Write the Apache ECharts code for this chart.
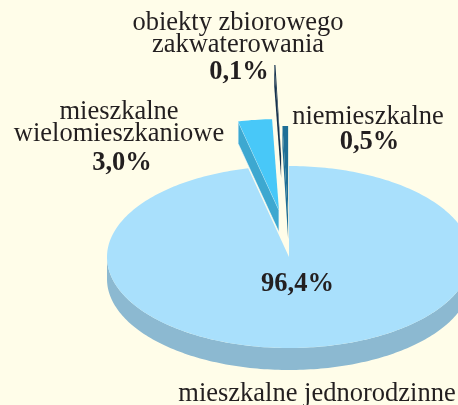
<!DOCTYPE html>
<html>
<head>
<meta charset="utf-8">
<title>pie</title>
<style>
html,body{margin:0;padding:0;background:#fffde9;}
#main{width:458px;height:405px;}
</style>
<script src="https://cdn.jsdelivr.net/npm/echarts@6/dist/echarts.min.js"></script>
</head>
<body>
<div id="main"></div>
<script>
var categories = ['mieszkalne jednorodzinne', 'mieszkalne\nwielomieszkaniowe', 'obiekty zbiorowego\nzakwaterowania', 'niemieszkalne'];
var values = [96.4, 3.0, 0.1, 0.5];
var valueLabels = ['96,4%', '3,0%', '0,1%', '0,5%'];

// wyglad plastra: [gora, bok]
var sliceColors = [['#a9e0fc', '#8cb9d1'], ['#48c8f8', '#3da8d0'], ['#16324e', '#16324e'], ['#1f6f96', '#1f6f96']];
// wysuniecie plastra: [w poziomie, w pionie]
var sliceExplode = [[0, 0], [0.42, 0.52], [1.25, 1.11], [0.3, 0.44]];
// pozycje podpisow: [x nazwy, y nazwy, x wartosci, y wartosci]
var labelPos = [[317, 394, 297.5, 284], [119, 123, 122, 163], [238, 34, 239, 72], [368, 117, 369.5, 142]];

var cx = 289, cy = 257, rx = 182, ry = 91, depth = 22;
var total = values.reduce(function (a, b) { return a + b; }, 0);

function pt(ox, oy, a) {
	return [ox + rx * Math.sin(a), oy - ry * Math.cos(a)];
}

function renderSlice(params, api) {
	var i = params.dataIndex;
	var before = 0;
	for (var k = 0; k < i; k++) before += values[k];
	var a0 = before / total * Math.PI * 2;
	var a1 = (before + api.value(0)) / total * Math.PI * 2;
	var mid = (a0 + a1) / 2;
	var ox = cx + rx * sliceExplode[i][0] * Math.sin(mid);
	var oy = cy - ry * sliceExplode[i][1] * Math.cos(mid);
	var steps = Math.max(2, Math.ceil((a1 - a0) / 0.02));
	var top = [[ox, oy]];
	for (var s = 0; s <= steps; s++) {
		top.push(pt(ox, oy, a0 + (a1 - a0) * s / steps));
	}
	var children = [];
	if (i === 0) {
		// bok duzego plastra - tylko przednia czesc luku
		var wall = [], back = [];
		for (var j = 0; j <= 160; j++) {
			var a = Math.PI / 2 + Math.PI * j / 160;
			var p = pt(ox, oy, a);
			wall.push(p);
			back.unshift([p[0], p[1] + depth]);
		}
		children.push({
			type: 'polygon',
			shape: { points: wall.concat(back) },
			style: { fill: sliceColors[i][1] }
		});
	} else {
		// lewa sciana wysunietego plastra
		var outer = pt(ox, oy, a0);
		children.push({
			type: 'polygon',
			shape: { points: [[ox, oy], outer, [outer[0], outer[1] + depth], [ox, oy + depth]] },
			style: { fill: sliceColors[i][1], stroke: i === 1 ? '#f4fbff' : null, lineWidth: 0.6 }
		});
	}
	children.push({
		type: 'polygon',
		shape: { points: top },
		style: { fill: sliceColors[i][0] }
	});
	return { type: 'group', children: children };
}

var textItems = [];
categories.forEach(function (name, i) {
	textItems.push({
		type: 'text', x: labelPos[i][0], y: labelPos[i][1], z: 10,
		style: {
			text: name, align: 'center', verticalAlign: 'middle',
			font: '26.5px "Liberation Serif"', lineHeight: 22, fill: '#231f20'
		}
	});
	textItems.push({
		type: 'text', x: labelPos[i][2], y: labelPos[i][3], z: 10,
		style: {
			text: valueLabels[i], align: 'center', verticalAlign: 'middle',
			font: 'bold 26.5px "Liberation Serif"', fill: '#231f20'
		}
	});
});

var myChart = echarts.init(document.getElementById('main'), null, { renderer: 'canvas' });
var option = {
	animation: false,
	backgroundColor: '#fffde9',
	graphic: textItems,
	series: [{
		type: 'custom',
		coordinateSystem: 'none',
		renderItem: renderSlice,
		encode: { value: 0 },
		data: values.map(function (v) { return [v]; })
	}]
};
myChart.setOption(option);
</script>
</body>
</html>
